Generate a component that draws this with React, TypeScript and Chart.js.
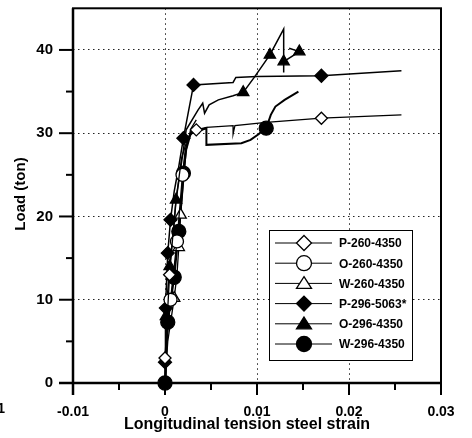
import { useEffect, useRef } from 'react';
import { Chart, registerables } from 'chart.js';

Chart.register(...registerables);

// ---- Data (strain, load in ton) ----
const seriesNames = ['P-260-4350', 'O-260-4350', 'W-260-4350', 'P-296-5063*', 'O-296-4350', 'W-296-4350'];

const p260Strain = [0, 0, 0.0002, 0.0005, 0.0008, 0.0012, 0.0018, 0.0025, 0.0034, 0.0045, 0.0074, 0.0074, 0.0076, 0.011, 0.017, 0.0257];
const p260Load = [0, 3, 7, 13, 17, 22, 27, 29.5, 30.4, 30.7, 30.9, 29.9, 30.9, 31.3, 31.8, 32.2];
const p260Marks = [1, 3, 8, 14];

const o260Strain = [0, 0.0002, 0.0006, 0.001, 0.0013, 0.0016, 0.0019, 0.0022, 0.0026, 0.003];
const o260Load = [0, 5, 10, 14, 17, 21, 25, 28, 29.6, 30.5];
const o260Marks = [2, 4, 6];

const w260Strain = [0, 0.0003, 0.001, 0.0013, 0.0015, 0.0017, 0.002, 0.0023, 0.0028, 0.0034];
const w260Load = [0, 5, 10.2, 13, 16.3, 20.2, 24, 28, 30.5, 31.6];
const w260Marks = [2, 4, 5];

const p296Strain = [0, 0, 0.0001, 0.0003, 0.0006, 0.001, 0.0015, 0.002, 0.0031, 0.0074, 0.0077, 0.01, 0.017, 0.0257];
const p296Load = [0, 2.5, 9, 15.6, 19.6, 23, 26, 29.4, 35.8, 36.1, 36.7, 36.8, 36.9, 37.5];
const p296Marks = [1, 2, 3, 4, 7, 8, 12];

const o296Strain = [0, 0.0001, 0.0005, 0.0009, 0.0012, 0.0016, 0.002, 0.0023, 0.0036, 0.0041, 0.0043, 0.0048, 0.0058, 0.0074, 0.0085, 0.0097, 0.0114, 0.0129, 0.0129, 0.0129, 0.0146, 0.0135];
const o296Load = [0, 8, 14, 18, 22, 25, 28, 30.4, 32.8, 33.6, 32.4, 33.4, 34, 34.5, 34.9, 36.7, 39.4, 42.5, 37.3, 38.6, 39.8, 40.2];
const o296Marks = [1, 2, 4, 14, 16, 19, 20];

const w296Strain = [0, 0.0003, 0.001, 0.0015, 0.0018, 0.002, 0.0023, 0.0028, 0.0045, 0.0045, 0.0083, 0.0093, 0.0102, 0.0107, 0.011, 0.0115, 0.012, 0.013, 0.0145];
const w296Load = [0, 7.3, 12.7, 18.2, 22, 25.2, 28, 30, 30.6, 28.6, 28.8, 29.2, 29.9, 30.4, 30.6, 32.2, 33.2, 34, 35];
const w296Marks = [0, 1, 2, 3, 5, 14];

// ---- Axis ticks ----
const xMajorTicks = [-0.01, 0, 0.01, 0.02, 0.03];
const xMinorTicks = [-0.005, 0.005, 0.015, 0.025];
const yMajorTicks = [0, 10, 20, 30, 40];
const yMinorTicks = [5, 15, 25, 35];

const xTitle = 'Longitudinal tension steel strain';
const yTitle = 'Load (ton)';
const FONT = '"Liberation Sans", Arial, sans-serif';

type Style = { shape: 'diamond' | 'circle' | 'triangle'; fill: boolean; r: number; lw: number };
const styles: Style[] = [
  { shape: 'diamond', fill: false, r: 6, lw: 1.3 },
  { shape: 'circle', fill: false, r: 6.5, lw: 1.3 },
  { shape: 'triangle', fill: false, r: 6.5, lw: 1.3 },
  { shape: 'diamond', fill: true, r: 6.5, lw: 1.5 },
  { shape: 'triangle', fill: true, r: 6.5, lw: 1.5 },
  { shape: 'circle', fill: true, r: 7, lw: 2 },
];

const pts = (xs: number[], ys: number[]) => xs.map((x, i) => ({ x, y: ys[i] }));

function drawMarker(ctx: CanvasRenderingContext2D, s: Style, x: number, y: number, r: number) {
  ctx.beginPath();
  if (s.shape === 'circle') {
    ctx.arc(x, y, r, 0, Math.PI * 2);
  } else if (s.shape === 'diamond') {
    ctx.moveTo(x, y - r);
    ctx.lineTo(x + r, y);
    ctx.lineTo(x, y + r);
    ctx.lineTo(x - r, y);
    ctx.closePath();
  } else {
    const h = r * 1.5;
    ctx.moveTo(x, y - h * 0.6);
    ctx.lineTo(x + r, y + h * 0.45);
    ctx.lineTo(x - r, y + h * 0.45);
    ctx.closePath();
  }
  ctx.fillStyle = s.fill ? '#000' : '#fff';
  ctx.fill();
  ctx.lineWidth = 1.3;
  ctx.strokeStyle = '#000';
  ctx.stroke();
}

const decor = {
  id: 'decor',
  afterDraw(chart: any) {
    const { ctx, chartArea: ca, scales } = chart;
    const xs = scales.x;
    const ys = scales.y;
    ctx.save();
    ctx.strokeStyle = '#000';
    const line = (x1: number, y1: number, x2: number, y2: number) => {
      ctx.beginPath();
      ctx.moveTo(x1, y1);
      ctx.lineTo(x2, y2);
      ctx.stroke();
    };
    // frame
    ctx.lineWidth = 2;
    ctx.strokeRect(ca.left, ca.top, ca.right - ca.left, ca.bottom - ca.top);
    ctx.lineWidth = 2.5;
    line(ca.left, ca.top, ca.left, ca.bottom + 12);
    line(ca.left - 14, ca.bottom, ca.right, ca.bottom);
    // ticks
    ctx.lineWidth = 2;
    yMajorTicks.forEach((v) => { const p = ys.getPixelForValue(v); line(ca.left - 14, p, ca.left, p); });
    yMinorTicks.forEach((v) => { const p = ys.getPixelForValue(v); line(ca.left - 7, p, ca.left, p); });
    xMajorTicks.forEach((v) => { const p = xs.getPixelForValue(v); line(p, ca.bottom, p, ca.bottom + 12); });
    xMinorTicks.forEach((v) => { const p = xs.getPixelForValue(v); line(p, ca.bottom, p, ca.bottom + 7); });

    // titles
    ctx.fillStyle = '#000';
    ctx.font = `bold 16px ${FONT}`;
    ctx.textAlign = 'center';
    ctx.textBaseline = 'middle';
    ctx.fillText(xTitle, 247, 425);
    ctx.save();
    ctx.translate(21, 194);
    ctx.rotate(-Math.PI / 2);
    ctx.font = `bold 15px ${FONT}`;
    ctx.fillText(yTitle, 0, 0);
    ctx.restore();
    // clipped neighbour label remnant
    ctx.font = `bold 14px ${FONT}`;
    ctx.textAlign = 'right';
    ctx.fillText('1', 5, 409);

    // legend
    const lx = 269, ly = 230, lw = 143, lh = 130;
    ctx.fillStyle = '#fff';
    ctx.fillRect(lx, ly, lw, lh);
    ctx.lineWidth = 1;
    ctx.strokeStyle = '#000';
    ctx.strokeRect(lx + 0.5, ly + 0.5, lw, lh);
    seriesNames.forEach((name, i) => {
      const y = 243 + i * 20.2;
      ctx.lineWidth = 1;
      ctx.strokeStyle = '#000';
      line(275, y, 332, y);
      drawMarker(ctx, styles[i], 304, y, 7.5);
      ctx.fillStyle = '#000';
      ctx.font = `bold 12px ${FONT}`;
      ctx.textAlign = 'left';
      ctx.textBaseline = 'middle';
      ctx.fillText(name, 339, y + 1);
    });
    ctx.restore();
  },
};

export default function App() {
  const ref = useRef<HTMLCanvasElement>(null);
  useEffect(() => {
    if (!ref.current) return;
    const allX = [p260Strain, o260Strain, w260Strain, p296Strain, o296Strain, w296Strain];
    const allY = [p260Load, o260Load, w260Load, p296Load, o296Load, w296Load];
    const allM = [p260Marks, o260Marks, w260Marks, p296Marks, o296Marks, w296Marks];
    const pStyle = (s: Style) => (s.shape === 'diamond' ? 'rectRot' : s.shape);
    const datasets = seriesNames.map((name, i) => {
      const s = styles[i];
      const marks = allM[i];
      return {
        label: name,
        data: pts(allX[i], allY[i]),
        showLine: true,
        borderColor: '#000',
        borderWidth: s.lw,
        pointStyle: pStyle(s),
        pointBackgroundColor: s.fill ? '#000' : '#fff',
        pointBorderColor: '#000',
        pointBorderWidth: 1.3,
        pointRadius: (c: any) => (marks.includes(c.dataIndex) ? s.r : 0),
        clip: false,
        tension: 0,
      };
    });
    const chart = new Chart(ref.current, {
      type: 'scatter',
      data: { datasets } as any,
      plugins: [decor],
      options: {
        animation: false,
        responsive: true,
        maintainAspectRatio: false,
        events: [],
        layout: { padding: { left: 0, right: 31, top: 7, bottom: 0 } },
        plugins: { legend: { display: false }, tooltip: { enabled: false } },
        scales: {
          x: {
            type: 'linear',
            min: -0.01,
            max: 0.03,
            afterFit: (s: any) => { s.height = 55; s.paddingLeft = 0; s.paddingRight = 0; },
            ticks: {
              stepSize: 0.01,
              padding: 21,
              color: '#000',
              font: { family: FONT, size: 14, weight: 'bold' },
              callback: (v: any) => { const n = Math.round(Number(v) * 1000) / 1000; return n === 0 ? '0' : n.toFixed(2); },
            },
            grid: {
              drawTicks: false,
              color: (c: any) => {
                const v = c.tick ? c.tick.value : 0;
                return v > -0.005 && v < 0.025 ? '#222' : 'rgba(0,0,0,0)';
              },
              lineWidth: 1,
            },
            border: { display: false, dash: [1.5, 3.5] },
          },
          y: {
            type: 'linear',
            min: 0,
            max: 45,
            afterFit: (s: any) => { s.width = 73; s.paddingTop = 0; s.paddingBottom = 0; },
            ticks: {
              stepSize: 10,
              includeBounds: false,
              padding: 20,
              color: '#000',
              font: { family: FONT, size: 15, weight: 'bold' },
            },
            grid: {
              drawTicks: false,
              color: (c: any) => {
                const v = c.tick ? c.tick.value : 0;
                return v > 5 && v < 44 ? '#222' : 'rgba(0,0,0,0)';
              },
              lineWidth: 1,
            },
            border: { display: false, dash: [1.5, 3.5] },
          },
        },
      } as any,
    });
    return () => chart.destroy();
  }, []);
  return (
    <div style={{ position: 'fixed', left: 0, top: 0, width: 472, height: 438, background: '#fff' }}>
      <canvas ref={ref} />
    </div>
  );
}
